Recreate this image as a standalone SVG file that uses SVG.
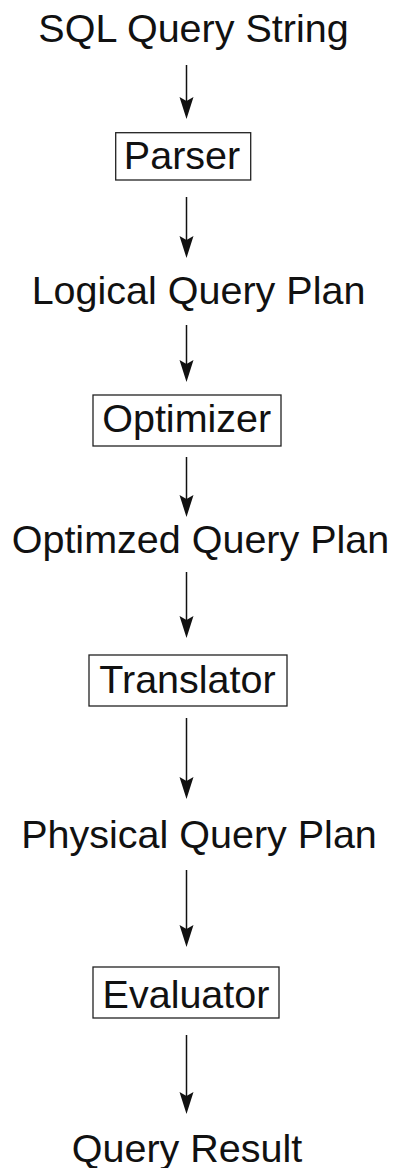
<svg xmlns="http://www.w3.org/2000/svg" width="398" height="1168" viewBox="0 0 398 1168">
  <style>
    .lbl { font-family: "Liberation Sans", Arial, sans-serif; font-size: 39.5px; fill: #111; text-anchor: middle; }
    .box { fill: none; stroke: #222; stroke-width: 1.3; }
    .edge { fill: none; stroke: #111; stroke-width: 1.5; marker-end: url(#head); }
  </style>
  <defs>
    <marker id="head" markerUnits="userSpaceOnUse" viewBox="-23 -8 24 16" markerWidth="24" markerHeight="16" refX="-8" refY="0" orient="auto">
      <path d="M0,0 L-22,-7 L-18,0 L-22,7 Z" fill="#111"/>
    </marker>
  </defs>
  <rect width="398" height="1168" fill="#fff"/>

  <g id="sql-query-string"><text class="lbl" x="193.5" y="42">SQL Query String</text></g>
  <g id="parser">
    <rect class="box" x="115.7" y="132.7" width="135" height="47.3"/>
    <text class="lbl" x="182" y="169.3">Parser</text>
  </g>
  <g id="logical-plan"><text class="lbl" x="198.5" y="304">Logical Query Plan</text></g>
  <g id="optimizer">
    <rect class="box" x="93" y="395" width="188" height="51"/>
    <text class="lbl" x="186.7" y="432">Optimizer</text>
  </g>
  <g id="optimized-plan"><text class="lbl" x="200.5" y="553">Optimzed Query Plan</text></g>
  <g id="translator">
    <rect class="box" x="89" y="655" width="198" height="51"/>
    <text class="lbl" x="187.5" y="693">Translator</text>
  </g>
  <g id="physical-plan"><text class="lbl" x="199" y="848">Physical Query Plan</text></g>
  <g id="evaluator">
    <rect class="box" x="93" y="967" width="186" height="51"/>
    <text class="lbl" x="186" y="1008">Evaluator</text>
  </g>
  <g id="query-result"><text class="lbl" x="187" y="1162">Query Result</text></g>

  <g id="connectors">
    <path class="edge" d="M186.5,65 V111"/>
    <path class="edge" d="M186.5,197 V250"/>
    <path class="edge" d="M186.5,325 V374"/>
    <path class="edge" d="M186.5,457 V509"/>
    <path class="edge" d="M186.5,572 V630"/>
    <path class="edge" d="M186.5,718 V791"/>
    <path class="edge" d="M186.5,870 V939"/>
    <path class="edge" d="M186.5,1035 V1106"/>
  </g>
</svg>
